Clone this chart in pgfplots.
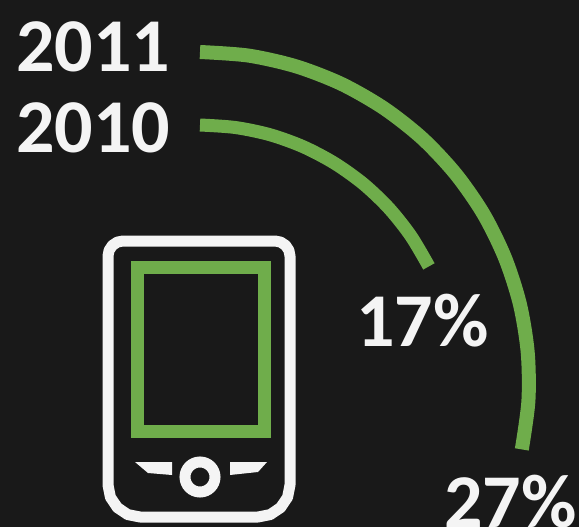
\documentclass[border=0pt]{standalone}
\usepackage{fontspec}
\setmainfont{Carlito}
\usepackage{pgfplots}
\pgfplotsset{compat=1.18}
\definecolor{bgdark}{HTML}{191919}
\definecolor{arcgreen}{HTML}{6FAD4B}
\definecolor{inkwhite}{HTML}{F4F4F4}
\newcommand{\biglabel}[1]{\fontsize{76}{76}\selectfont\bfseries #1}
\begin{document}
\begin{tikzpicture}
\useasboundingbox (0,0) rectangle (579pt,527pt);
\clip (0,0) rectangle (579pt,527pt);
\begin{axis}[
  at={(0,0)}, anchor=south west,
  scale only axis, width=579pt, height=527pt,
  xmin=0, xmax=579, ymin=0, ymax=527, y dir=reverse,
  axis lines=none, clip=false,
  axis background/.style={fill=bgdark},
]
% usage arcs: 2011 (27%) and 2010 (17%)
\addplot[arcgreen, line width=14pt, smooth, tension=0.5, line cap=butt] coordinates {
  (200,52) (248.6,55.6) (296.2,66.4) (341.6,84.0) (384.0,108.3) (422.3,138.4) (455.7,174.0)
  (483.5,214.0) (505.0,257.8) (519.9,304.2) (527.7,352.3) (528.4,401.1) (521.8,449.4)};
\addplot[arcgreen, line width=13pt, smooth, tension=0.5, line cap=butt] coordinates {
  (200,125) (235.3,127.5) (269.9,134.7) (303.2,146.7) (334.5,163.2) (363.3,183.8)
  (388.9,208.2) (410.9,236.0) (428.9,266.4)};
% handset outline
\addplot[inkwhite, line width=11pt, line join=round] coordinates {
  (108,485) (108,256) (109.1,250.3) (112.4,245.4) (117.3,242.1) (123,241)
  (275,241) (280.7,242.1) (285.6,245.4) (288.9,250.3) (290,256)
  (290,485) (287.6,497.2) (280.6,507.6) (270.2,514.6) (258,517)
  (140,517) (127.8,514.6) (117.4,507.6) (110.4,497.2) (108,485)} -- cycle;
% screen
\addplot[arcgreen, line width=13pt, line join=miter] coordinates {
  (137,267) (264,267) (264,431) (137,431)} -- cycle;
% keys
\addplot[fill=inkwhite, draw=none] coordinates {
  (135,462) (172,462) (172,475) (148,473)} -- cycle;
\addplot[fill=inkwhite, draw=none] coordinates {
  (230,462) (267,462) (258,472) (230,475)} -- cycle;
\addplot[only marks, mark=*, mark size=15pt,
  mark options={draw=inkwhite, fill=bgdark, line width=11pt}] coordinates {(200,477)};
% labels
\node[anchor=base west, inner sep=0pt, text=inkwhite] at (axis cs:16,72) {\biglabel{2011}};
\node[anchor=base west, inner sep=0pt, text=inkwhite] at (axis cs:16,153) {\biglabel{2010}};
\node[anchor=base west, inner sep=0pt, text=inkwhite] at (axis cs:356,346) {\biglabel{17\%}};
\node[anchor=base west, inner sep=0pt, text=inkwhite] at (axis cs:444,527) {\biglabel{27\%}};
\end{axis}
\end{tikzpicture}
\end{document}
